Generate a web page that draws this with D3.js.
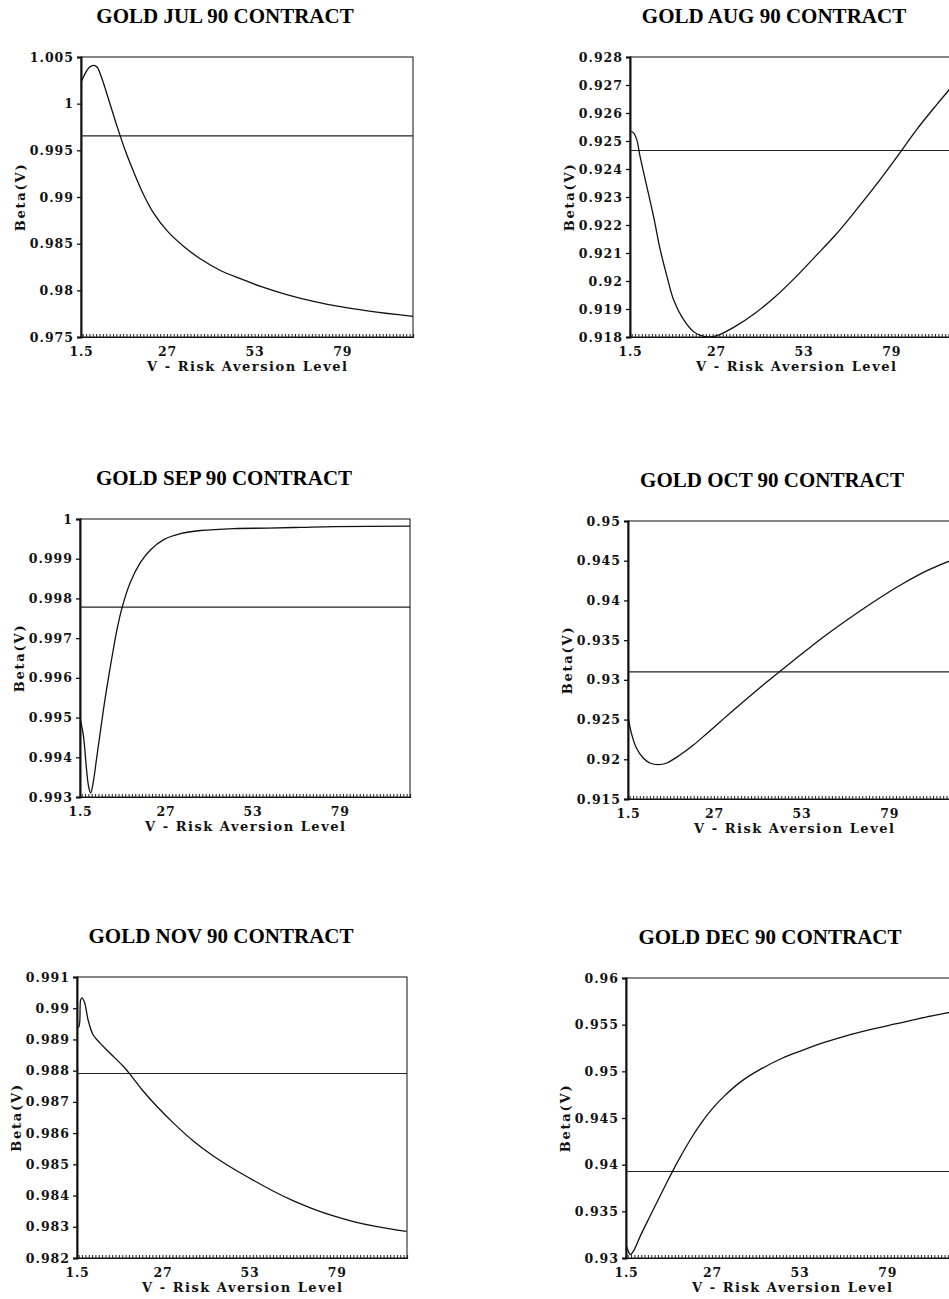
<!DOCTYPE html>
<html><head><meta charset="utf-8">
<script src="https://cdn.jsdelivr.net/npm/d3@7"></script>
<style>body{margin:0;background:#fff;} svg{display:block}</style>
</head><body><svg id="c" width="949" height="1299"></svg>
<script>
const titles = ["GOLD JUL 90 CONTRACT","GOLD AUG 90 CONTRACT","GOLD SEP 90 CONTRACT","GOLD OCT 90 CONTRACT","GOLD NOV 90 CONTRACT","GOLD DEC 90 CONTRACT"];
const xDomain = [1.5, 100];
const xTicks = [1.5, 27, 53, 79];
const xMinorTicks = d3.range(2, 101, 1);
const xLabel = "V - Risk Aversion Level";
const yLabel = "Beta(V)";

const vJul = [1.5, 3, 4, 5.3, 6.3, 7.5, 10, 12, 14.6, 17, 20, 23, 27, 32, 37, 43, 49, 55, 62.5, 70.5, 78.5, 86.5, 92.5, 100];
const bJul = [1.0023, 1.0034, 1.0039, 1.0041, 1.0039, 1.0029, 1.0001, 0.9978, 0.995, 0.9928, 0.9903, 0.9883, 0.9864, 0.9847, 0.98335, 0.9821, 0.98122, 0.9804, 0.97955, 0.97882, 0.97825, 0.9778, 0.97752, 0.97722];
const vAug = [1.5, 2.5, 3.5, 4.5, 6.5, 8.5, 10.5, 12.5, 14.5, 17.5, 20.5, 24.5, 27.5, 32.5, 38.5, 44.5, 50.5, 56.5, 62.5, 68.5, 74.5, 80.5, 86.5, 92.5, 97, 100];
const bAug = [0.92535, 0.9253, 0.92505, 0.92444, 0.92337, 0.9223, 0.9211, 0.92015, 0.91931, 0.9186, 0.91818, 0.918, 0.91806, 0.91836, 0.91884, 0.91943, 0.92012, 0.92088, 0.92165, 0.92252, 0.92343, 0.9244, 0.9254, 0.9263, 0.92695, 0.9274];
const vSep = [1.5, 2.5, 3.5, 4.1, 4.7, 5.5, 6.5, 7.5, 8.5, 9.5, 11, 12.5, 14, 16.5, 19.5, 22.5, 26.5, 31.5, 37.5, 47.5, 57.5, 67.5, 77.5, 100];
const bSep = [0.99499, 0.99455, 0.99365, 0.99325, 0.9931, 0.9934, 0.994, 0.9946, 0.9952, 0.99575, 0.9965, 0.9972, 0.99775, 0.9984, 0.9989, 0.99922, 0.99948, 0.99963, 0.99971, 0.99976, 0.99977, 0.99979, 0.99981, 0.99982];
const vOct = [1.5, 2.5, 4, 6, 8, 10.5, 13, 17, 21, 25, 30, 35, 40, 47, 53, 59, 67, 75, 83, 91, 98, 100];
const bOct = [0.92539, 0.9233, 0.92141, 0.92016, 0.91953, 0.91932, 0.91953, 0.92057, 0.92183, 0.92329, 0.92515, 0.927, 0.9288, 0.9312, 0.93325, 0.93525, 0.9377, 0.94, 0.9421, 0.9439, 0.94515, 0.94545];
const vNov = [1.5, 2.1, 2.6, 3, 3.8, 4.8, 6.3, 8.3, 10.3, 12.8, 15.3, 17.8, 21.3, 25.3, 30.3, 36.3, 42.3, 48.3, 54.3, 60.3, 66.3, 72.3, 78.3, 84.3, 90.3, 99.8];
const bNov = [0.98937, 0.98942, 0.99027, 0.99033, 0.99017, 0.98963, 0.98915, 0.98889, 0.98867, 0.98841, 0.98814, 0.98782, 0.98734, 0.98686, 0.98632, 0.98574, 0.98526, 0.98485, 0.98448, 0.98413, 0.98382, 0.98356, 0.98334, 0.98316, 0.98302, 0.98285];
const vDec = [1.5, 2, 2.8, 3.8, 5.8, 8.8, 12.8, 16.8, 20.8, 23.8, 27, 30.8, 35.8, 40.8, 47.8, 53.8, 60.8, 67.8, 74.8, 81.8, 87.8, 93.8, 100];
const bDec = [0.93143, 0.9309, 0.93036, 0.9308, 0.9324, 0.9346, 0.9375, 0.9403, 0.9428, 0.94445, 0.94595, 0.9474, 0.94895, 0.9501, 0.9514, 0.95225, 0.95315, 0.9539, 0.95455, 0.9551, 0.9556, 0.95605, 0.9565];

const means = [0.99655, 0.92466, 0.99778, 0.931, 0.98791, 0.93927];
const yDomains = [[0.975, 1.005], [0.918, 0.928], [0.993, 1.0], [0.915, 0.95], [0.982, 0.991], [0.93, 0.96]];
const yTicks = [
  [0.975, 0.98, 0.985, 0.99, 0.995, 1, 1.005],
  [0.918, 0.919, 0.92, 0.921, 0.922, 0.923, 0.924, 0.925, 0.926, 0.927, 0.928],
  [0.993, 0.994, 0.995, 0.996, 0.997, 0.998, 0.999, 1],
  [0.915, 0.92, 0.925, 0.93, 0.935, 0.94, 0.945, 0.95],
  [0.982, 0.983, 0.984, 0.985, 0.986, 0.987, 0.988, 0.989, 0.99, 0.991],
  [0.93, 0.935, 0.94, 0.945, 0.95, 0.955, 0.96]
];
const seriesV = [vJul, vAug, vSep, vOct, vNov, vDec];
const seriesB = [bJul, bAug, bSep, bOct, bNov, bDec];

const layout = [
  {l:81, r:413, t:57, b:337},
  {l:630, r:962, t:57, b:337},
  {l:80, r:410, t:519, b:797},
  {l:628, r:960, t:521, b:799},
  {l:77, r:407, t:977, b:1258},
  {l:626, r:958, t:978, b:1258}
];

const fmt = v => String(+v.toFixed(4));
const tickFont = "'DejaVu Serif', serif";
const svg = d3.select('#c');

seriesV.forEach((vs, i) => {
  const L = layout[i];
  const g = svg.append('g');
  const x = d3.scaleLinear().domain(xDomain).range([L.l, L.r]);
  const y = d3.scaleLinear().domain(yDomains[i]).range([L.b, L.t]);

  // title
  g.append('text').attr('x', L.l + 144).attr('y', L.t - 34)
    .attr('text-anchor', 'middle')
    .style('font-family', "'Liberation Serif', 'Times New Roman', serif")
    .style('font-weight', 'bold').style('font-size', '21px')
    .text(titles[i]);

  // frame
  g.append('rect').attr('x', L.l).attr('y', L.t)
    .attr('width', L.r - L.l).attr('height', L.b - L.t)
    .attr('fill', 'none').attr('stroke', '#111').attr('stroke-width', 1);

  // minor ticks bottom (inside)
  const minor = g.append('g').attr('transform', `translate(0,${L.b})`)
    .call(d3.axisBottom(x).tickValues(xMinorTicks).tickSize(-3).tickFormat(''));
  minor.select('.domain').attr('stroke', '#111').attr('stroke-width', 1.2);
  minor.selectAll('.tick line').attr('stroke', '#222').attr('stroke-width', 1);

  // major x labels
  const xa = g.append('g').attr('transform', `translate(0,${L.b})`)
    .call(d3.axisBottom(x).tickValues(xTicks).tickSize(0).tickPadding(10).tickFormat(d => String(d)));
  xa.select('.domain').remove();
  xa.selectAll('text').style('font-family', tickFont).style('font-weight', 'bold')
    .style('font-size', '12.5px').style('letter-spacing', '0.8px').attr('fill', '#111');

  // left axis
  const ya = g.append('g').attr('transform', `translate(${L.l},0)`)
    .call(d3.axisLeft(y).tickValues(yTicks[i]).tickSize(4).tickPadding(3).tickFormat(fmt));
  ya.select('.domain').attr('stroke', '#111').attr('stroke-width', 2);
  ya.selectAll('.tick line').attr('stroke', '#111').attr('stroke-width', 1.3);
  ya.selectAll('text').style('font-family', tickFont).style('font-weight', 'bold')
    .style('font-size', '12.5px').style('letter-spacing', '1px').attr('fill', '#111');

  // axis labels
  g.append('text').attr('x', (L.l + L.r) / 2).attr('y', L.b + 34)
    .attr('text-anchor', 'middle')
    .attr('textLength', 200).attr('lengthAdjust', 'spacing')
    .style('font-family', tickFont).style('font-weight', 'bold').style('font-size', '13px')
    .attr('fill', '#111').text(xLabel);
  g.append('text')
    .attr('transform', `translate(${L.l - 61},${(L.t + L.b) / 2}) rotate(-90)`)
    .attr('text-anchor', 'middle').attr('dy', '0.35em')
    .style('font-family', tickFont).style('font-weight', 'bold').style('font-size', '13px')
    .style('letter-spacing', '1.8px')
    .attr('fill', '#111').text(yLabel);

  // clip
  const cid = 'clip' + i;
  svg.append('clipPath').attr('id', cid).append('rect')
    .attr('x', L.l).attr('y', L.t).attr('width', L.r - L.l).attr('height', L.b - L.t);

  const plot = g.append('g').attr('clip-path', `url(#${cid})`);
  // mean line
  plot.append('line').attr('x1', x(xDomain[0])).attr('x2', x(xDomain[1]))
    .attr('y1', y(means[i])).attr('y2', y(means[i]))
    .attr('stroke', '#222').attr('stroke-width', 1.1);
  // curve
  const pts = vs.map((v, k) => [v, seriesB[i][k]]);
  plot.append('path').datum(pts)
    .attr('d', d3.line().x(d => x(d[0])).y(d => y(d[1])).curve(d3.curveCatmullRom.alpha(0.5)))
    .attr('fill', 'none').attr('stroke', '#111').attr('stroke-width', 1.3);
});
</script></body></html>
